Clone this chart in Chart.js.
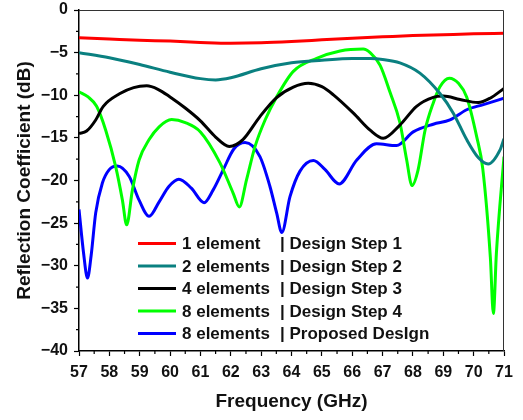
<!DOCTYPE html>
<html>
<head>
<meta charset="utf-8">
<script src="https://cdn.jsdelivr.net/npm/chart.js"></script>
<style>
  body { margin: 0; background: #fff; }
  #wrap { width: 523px; height: 420px; }
</style>
</head>
<body>
<div id="wrap"><canvas id="s11Chart" width="523" height="420"></canvas></div>
<script>
// 資料 (頻率 GHz / 反射係數 dB)
const redF  = [57, 58, 59, 60, 61, 62, 63, 64, 65, 66, 67, 68, 69, 70, 71];
const redDb = [-3.25, -3.4, -3.55, -3.65, -3.8, -3.9, -3.85, -3.7, -3.5, -3.3, -3.15, -3.0, -2.9, -2.8, -2.73];

const tealF  = [57, 58, 59, 60, 61, 61.5, 62, 63, 64, 65, 66, 66.6, 67, 67.57, 68.23, 68.89, 69.33, 69.77, 70.15, 70.48, 70.87, 71];
const tealDb = [-5.0, -5.6, -6.4, -7.3, -8.05, -8.2, -7.95, -6.9, -6.2, -5.9, -5.7, -5.7, -5.8, -6.2, -7.4, -9.8, -12.1, -15.2, -17.3, -18.05, -16.4, -15.1];

const blackF  = [57, 57.25, 57.55, 57.8, 58.35, 58.8, 59.23, 59.6, 60, 60.5, 61, 61.5, 61.95, 62.4, 62.96, 63.5, 64.06, 64.55, 65.0, 65.38, 66.04, 66.59, 67.02, 67.57, 68.12, 68.67, 69.0, 69.55, 70.15, 70.54, 71];
const blackDb = [-14.5, -14.2, -12.9, -11.3, -9.8, -9.1, -8.9, -9.3, -10.2, -11.5, -13.0, -14.9, -16.0, -15.2, -12.5, -10.3, -9.05, -8.6, -9.0, -9.95, -12.1, -14.1, -15.05, -13.5, -11.3, -10.25, -10.1, -10.5, -10.85, -10.35, -9.2];

const greenF  = [57, 57.3, 57.58, 57.88, 58.21, 58.43, 58.57, 58.76, 58.98, 59.31, 59.64, 60.05, 60.5, 61.0, 61.64, 62.08, 62.28, 62.52, 62.8, 63.13, 63.51, 64.06, 64.83, 65.6, 66.36, 66.59, 66.92, 67.24, 67.57, 67.79, 67.97, 68.17, 68.4, 68.67, 68.89, 69.2, 69.5, 69.77, 70.1, 70.3, 70.55, 70.65, 70.75, 71];
const greenDb = [-9.6, -10.2, -11.3, -14.1, -18.4, -22.3, -25.2, -21.1, -17.6, -15.2, -13.7, -12.85, -13.2, -14.3, -17.9, -21.5, -23.1, -19.9, -16.0, -12.9, -10.2, -7.2, -5.67, -4.8, -4.57, -5.0, -6.5, -9.6, -13.2, -17.5, -20.6, -18.75, -14.1, -10.9, -9.0, -8.0, -8.6, -10.2, -14.85, -18.6, -29.0, -35.6, -28.5, -17.2];

const blueF  = [57, 57.15, 57.28, 57.4, 57.55, 57.77, 57.99, 58.26, 58.65, 58.98, 59.31, 59.64, 59.96, 60.29, 60.7, 61.12, 61.42, 61.75, 62.1, 62.47, 62.96, 63.29, 63.51, 63.68, 63.95, 64.28, 64.72, 65.1, 65.57, 66.15, 66.8, 67.46, 68.01, 68.67, 69.22, 69.77, 70.32, 71];
const blueDb = [-23.4, -28.5, -31.45, -28.8, -23.8, -20.3, -18.75, -18.3, -19.5, -22.3, -24.2, -22.5, -20.7, -19.85, -20.9, -22.6, -21.1, -18.75, -16.3, -15.55, -17.2, -20.7, -23.8, -26.1, -21.9, -18.9, -17.65, -18.7, -20.4, -17.6, -15.7, -15.9, -14.3, -13.4, -12.9, -11.7, -11.1, -10.35];

// 圖例文字
const legendNames = ['1 element', '2 elements', '4 elements', '8 elements', '8 elements'];
const legendSteps = ['Design Step 1', 'Design Step 2', 'Design Step 3', 'Design Step 4', 'Proposed DesIgn'];
const lineColors = ['#ff0000', '#0a8080', '#000000', '#00ff00', '#0000ff'];

// 刻度
const xTicks = [57, 58, 59, 60, 61, 62, 63, 64, 65, 66, 67, 68, 69, 70, 71];
const yTicks = [0, -5, -10, -15, -20, -25, -30, -35, -40];

function toPoints(fs, vs) {
    return fs.map(function (f, i) { return { x: f, y: vs[i] }; });
}

const seriesF = [redF, tealF, blackF, greenF, blueF];
const seriesDb = [redDb, tealDb, blackDb, greenDb, blueDb];

const datasets = seriesF.map(function (fs, i) {
    return {
        label: legendNames[i] + ' | ' + legendSteps[i],
        data: toPoints(fs, seriesDb[i]),
        borderColor: lineColors[i],
        borderWidth: 3,
        pointRadius: 0,
        fill: false,
        cubicInterpolationMode: 'monotone',
    };
});

// 外框 + 次刻度 + 圖例
const extrasPlugin = {
    id: 'extras',
    afterDraw: function (chart) {
        const ctx = chart.ctx;
        const a = chart.chartArea;
        const xs = chart.scales.x;
        const ys = chart.scales.y;
        ctx.save();

        // 上、右框線
        ctx.strokeStyle = '#333';
        ctx.lineWidth = 1;
        ctx.beginPath();
        ctx.moveTo(a.left, a.top + 0.5);
        ctx.lineTo(a.right - 0.5, a.top + 0.5);
        ctx.lineTo(a.right - 0.5, a.bottom);
        ctx.stroke();

        // 次刻度
        ctx.strokeStyle = '#000';
        ctx.lineWidth = 1.2;
        ctx.beginPath();
        for (let i = 0; i < xTicks.length - 1; i++) {
            const px = xs.getPixelForValue(xTicks[i] + 0.5);
            ctx.moveTo(px, a.bottom);
            ctx.lineTo(px, a.bottom + 3);
        }
        for (let i = 0; i < yTicks.length - 1; i++) {
            const py = ys.getPixelForValue(yTicks[i] - 2.5);
            ctx.moveTo(a.left, py);
            ctx.lineTo(a.left - 3, py);
        }
        ctx.stroke();

        // 圖例
        const lx0 = 138, lx1 = 176, tx = 182, px = 280;
        const rowY = [243.5, 266, 288.5, 311, 333.5];
        ctx.font = 'bold 17px "Liberation Sans", Arial, sans-serif';
        ctx.textBaseline = 'middle';
        ctx.fillStyle = '#111';
        for (let i = 0; i < legendNames.length; i++) {
            ctx.strokeStyle = lineColors[i];
            ctx.lineWidth = 3;
            ctx.beginPath();
            ctx.moveTo(lx0, rowY[i]);
            ctx.lineTo(lx1, rowY[i]);
            ctx.stroke();
            ctx.fillText(legendNames[i], tx, rowY[i] + 1);
            ctx.fillText('| ' + legendSteps[i], px, rowY[i] + 1);
        }
        ctx.restore();
    }
};

const ctx1 = document.getElementById('s11Chart').getContext('2d');
new Chart(ctx1, {
    type: 'line',
    data: { datasets: datasets },
    options: {
        responsive: false,
        animation: false,
        layout: { padding: { top: 10, right: 19, left: 0, bottom: 0 } },
        plugins: {
            legend: { display: false },
            tooltip: { enabled: false },
        },
        scales: {
            x: {
                type: 'linear',
                min: 57,
                max: 71,
                afterFit: function (scale) {
                    scale.height = 69;
                    scale.paddingLeft = 0;
                    scale.paddingRight = 0;
                },
                afterBuildTicks: function (scale) {
                    scale.ticks = xTicks.map(function (v) { return { value: v }; });
                },
                ticks: {
                    color: '#111',
                    font: { family: '"Liberation Sans", Arial, sans-serif', size: 16, weight: 'bold' },
                    padding: 7,
                    maxRotation: 0,
                    autoSkip: false,
                    callback: function (v) { return String(v); },
                },
                grid: { drawOnChartArea: false, drawTicks: true, tickLength: 5, tickColor: '#000', tickWidth: 1.2 },
                border: { color: '#000', width: 1.5 },
                title: {
                    display: true,
                    text: 'Frequency (GHz)',
                    color: '#111',
                    font: { family: '"Liberation Sans", Arial, sans-serif', size: 19, weight: 'bold' },
                    padding: { top: 0, bottom: 7 },
                },
            },
            y: {
                type: 'linear',
                min: -40,
                max: 0,
                afterFit: function (scale) {
                    scale.width = 79;
                    scale.paddingTop = 0;
                    scale.paddingBottom = 0;
                },
                afterBuildTicks: function (scale) {
                    scale.ticks = yTicks.slice().reverse().map(function (v) { return { value: v }; });
                },
                ticks: {
                    color: '#111',
                    font: { family: '"Liberation Sans", Arial, sans-serif', size: 16, weight: 'bold' },
                    padding: 6,
                    autoSkip: false,
                    callback: function (v) { return v === 0 ? '0' : '\u2212' + Math.abs(v); },
                },
                grid: { drawOnChartArea: false, drawTicks: true, tickLength: 5, tickColor: '#000', tickWidth: 1.2 },
                border: { color: '#000', width: 1.5 },
                title: {
                    display: true,
                    text: 'Reflection Coefficient (dB)',
                    color: '#111',
                    font: { family: '"Liberation Sans", Arial, sans-serif', size: 19, weight: 'bold' },
                    padding: { top: 13, bottom: 0 },
                },
            },
        },
    },
    plugins: [extrasPlugin],
});
</script>
</body>
</html>
